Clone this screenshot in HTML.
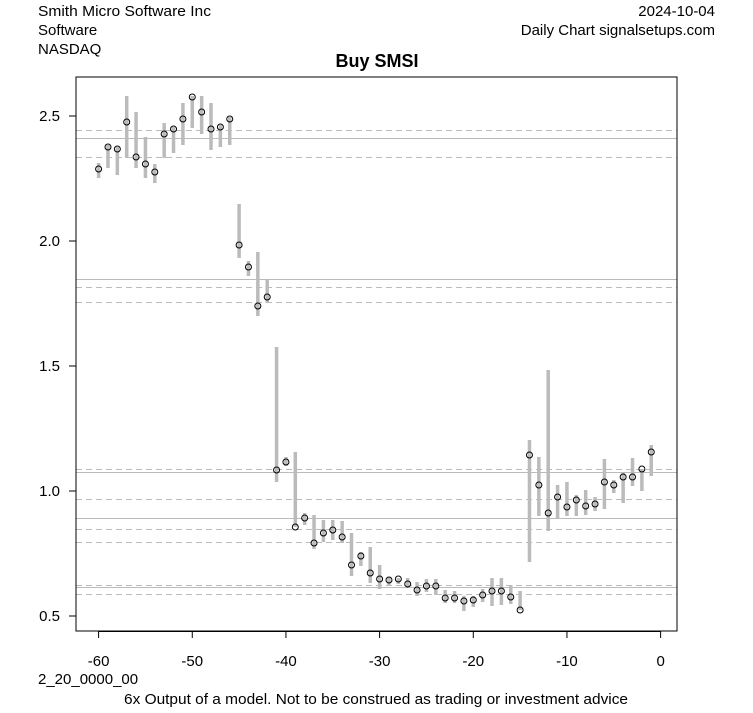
<!DOCTYPE html>
<html><head><meta charset="utf-8"><style>
body{margin:0;background:#fff;}
svg text{font-family:"Liberation Sans",Arial,sans-serif;}
</style></head><body>
<svg id="s" width="753" height="708" xmlns="http://www.w3.org/2000/svg">
<rect width="753" height="708" fill="#fff"/>
<text x="38" y="16" font-size="15" textLength="173" lengthAdjust="spacingAndGlyphs">Smith Micro Software Inc</text>
<text x="38" y="35" font-size="15">Software</text>
<text x="38" y="54" font-size="15">NASDAQ</text>
<text x="715" y="16" font-size="15" text-anchor="end">2024-10-04</text>
<text x="715" y="35" font-size="15" text-anchor="end">Daily Chart signalsetups.com</text>
<text x="377" y="67" font-size="18" font-weight="bold" text-anchor="middle">Buy SMSI</text>
<g id="hl"></g>
<g id="bars"></g>
<rect x="76" y="77" width="601" height="554" fill="none" stroke="#000" stroke-width="1"/>
<g id="ax"></g>
<text x="38" y="684" font-size="15">2_20_0000_00</text>
<text x="124" y="704" font-size="15" textLength="504" lengthAdjust="spacingAndGlyphs">6x Output of a model. Not to be construed as trading or investment advice</text>
</svg>
<script>
var NS="http://www.w3.org/2000/svg";
function el(p,t,a,txt){var e=document.createElementNS(NS,t);for(var k in a)e.setAttribute(k,a[k]);if(txt!==undefined)e.textContent=txt;document.getElementById(p).appendChild(e);}
var solid=[138,279,472,518,587], dash=[130,157,287,302,469,499,529,542,585,594];
solid.forEach(function(y){el("hl","line",{x1:76,x2:677,y1:y+.5,y2:y+.5,stroke:"#bbb","stroke-width":1});});
dash.forEach(function(y){el("hl","line",{x1:76,x2:677,y1:y+.5,y2:y+.5,stroke:"#bbb","stroke-width":1,"stroke-dasharray":"6,4"});});
var d=[[169,163,178],[147,145,168],[149,147,175],[122,96,158],[157,112,168],[164,137,178],[172,164,183],[134,123,158],[129,127,153],[119,103,145],[97,96,128],[112,96,134],[129,103,150],[127,125,147],[119,117,145],[245,204,258],[267,261,276],[306,252,316],[297,280,303],[470,347,482],[462,457,466],[527,452,527],[518,513,525],[543,515,549],[533,520,542],[530,520,540],[537,521,543],[565,533,576],[556,552,566],[573,547,583],[579,565,589],[580,577,585],[579,578,584],[584,578,588],[590,582,596],[586,579,592],[586,579,595],[598,590,603],[598,591,603],[601,596,611],[600,596,607],[595,589,602],[591,578,606],[591,578,605],[597,585,604],[610,591,610],[455,440,562],[485,457,516],[513,370,531],[497,485,519],[507,482,516],[500,495,516],[506,490,515],[504,497,511],[482,459,509],[485,480,493],[477,472,503],[477,458,486],[469,469,491],[452,445,476]];
d.forEach(function(r,i){var x=98.6+i*9.367;
el("bars","line",{x1:x,x2:x,y1:r[1],y2:r[2],stroke:"#bbb","stroke-width":3.5});
el("bars","circle",{cx:x,cy:r[0],r:3,fill:"none",stroke:"#000","stroke-width":1});});
for(var v=-60;v<=0;v+=10){var x=98.6+(v+60)*9.367;
el("ax","line",{x1:x,x2:x,y1:631,y2:638,stroke:"#000"});
el("ax","text",{x:x,y:666,"font-size":15,"text-anchor":"middle"},String(v));}
el("ax","line",{x1:98.6,x2:660.6,y1:631.5,y2:631.5,stroke:"#000"});
[0.5,1.0,1.5,2.0,2.5].forEach(function(v){var y=616-(v-0.5)*250;
el("ax","line",{x1:69,x2:76,y1:y,y2:y,stroke:"#000"});
el("ax","text",{x:60,y:y+5,"font-size":15,"text-anchor":"end"},v.toFixed(1));});
</script>
</body></html>
